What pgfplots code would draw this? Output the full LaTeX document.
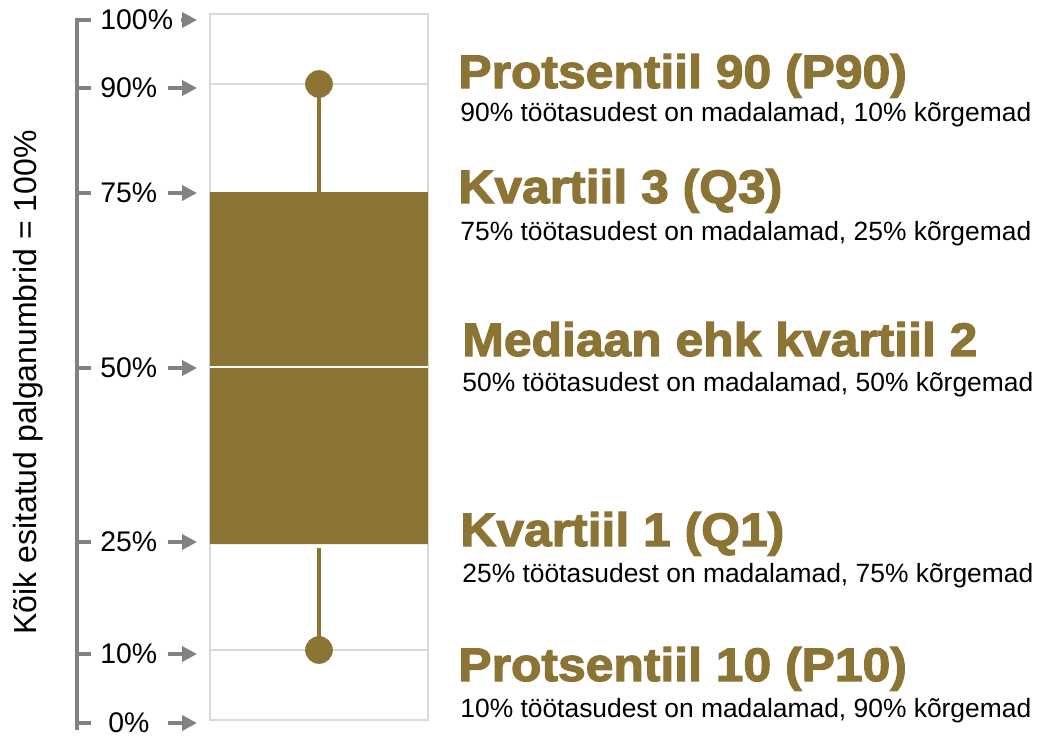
\documentclass[border=0pt]{standalone}
\usepackage{pgfplots}
\pgfplotsset{compat=1.18}
\usepackage{fontspec}
\setmainfont{Liberation Sans}
\newfontfamily\headfont[FakeBold=2.5, FakeStretch=1.06]{Liberation Sans Bold}
\usetikzlibrary{arrows.meta}
\definecolor{gold}{RGB}{140,117,52}
\definecolor{agray}{RGB}{128,130,133}
\definecolor{fgray}{RGB}{217,217,217}
\begin{document}
\begin{tikzpicture}
\begin{axis}[
  scale only axis, width=109pt, height=353pt,
  xmin=0, xmax=1, ymin=0, ymax=706,
  axis line style={fgray, line width=0.6pt},
  xtick=\empty, ytick={70,636}, yticklabels={}, major tick length=0,
  ymajorgrids, grid style={fgray, line width=0.6pt},
  clip=false,
  /pgf/number format/assume math mode=true,
]
% box (Q1 to Q3)
\addplot[fill=gold, draw=none] coordinates {(0,176) (1,176) (1,528) (0,528) (0,176)};
% median
\addplot[white, line width=0.6pt] coordinates {(0,353) (1,353)};
% whiskers
\addplot[gold, line width=2.1pt] coordinates {(0.5,528) (0.5,636)};
\addplot[gold, line width=2.1pt] coordinates {(0.5,172) (0.5,70)};
% P10 and P90 dots
\addplot[only marks, mark=*, mark size=6.7pt, gold] coordinates {(0.5,636) (0.5,70)};

% left bracket
\draw[agray, line width=2pt] (axis cs:-0.5459,700) -- (axis cs:-0.6101,700) -- (axis cs:-0.6101,-10);
\pgfplotsinvokeforeach{632,527,352,178,66,-3}{
  \draw[agray, line width=2pt] (axis cs:-0.6101,#1) -- (axis cs:-0.5459,#1);
  \draw[agray, line width=1.8pt, -{Triangle[length=7.5pt,width=7.5pt]}] (axis cs:-0.1927,#1) -- (axis cs:-0.0596,#1);
}
\draw[agray, line width=1.8pt, -{Triangle[length=7.5pt,width=7.5pt]}] (axis cs:-0.1330,700) -- (axis cs:-0.0596,700);
% tick labels
\tikzset{tl/.style={anchor=west, inner sep=0pt, font=\fontsize{14.2}{14}\selectfont}}
\node[tl] at (axis cs:-0.5046,700) {100\%};
\node[tl] at (axis cs:-0.5046,632) {90\%};
\node[tl] at (axis cs:-0.5046,527) {75\%};
\node[tl] at (axis cs:-0.5046,352) {50\%};
\node[tl] at (axis cs:-0.5046,178) {25\%};
\node[tl] at (axis cs:-0.5046,66) {10\%};
\node[tl] at (axis cs:-0.4679,-3) {0\%};
% y label
\node[anchor=base, rotate=90, inner sep=0pt, font=\fontsize{16}{16}\selectfont] at (axis cs:-0.7936,337.5) {Kõik esitatud palganumbrid = 100\%};

% right annotations
\tikzset{hd/.style={anchor=base west, inner sep=0pt, text=gold, font=\headfont\fontsize{23.5}{24}\selectfont},
         sb/.style={anchor=base west, inner sep=0pt, font=\fontsize{13.2}{14}\selectfont}}
\node[hd] at (axis cs:1.1376,632) {Protsentiil 90 (P90)};
\node[sb] at (axis cs:1.1468,599) {90\% töötasudest on madalamad, 10\% kõrgemad};
\node[hd] at (axis cs:1.1376,517) {Kvartiil 3 (Q3)};
\node[sb] at (axis cs:1.1468,480) {75\% töötasudest on madalamad, 25\% kõrgemad};
\node[hd] at (axis cs:1.1560,364) {Mediaan ehk kvartiil 2};
\node[sb] at (axis cs:1.1560,329) {50\% töötasudest on madalamad, 50\% kõrgemad};
\node[hd] at (axis cs:1.1468,174) {Kvartiil 1 (Q1)};
\node[sb] at (axis cs:1.1560,138) {25\% töötasudest on madalamad, 75\% kõrgemad};
\node[hd] at (axis cs:1.1376,39) {Protsentiil 10 (P10)};
\node[sb] at (axis cs:1.1468,3) {10\% töötasudest on madalamad, 90\% kõrgemad};

\coordinate (BL) at (axis cs:-0.96330,-16);
\coordinate (TR) at (axis cs:3.79358,720);
\end{axis}
\pgfresetboundingbox
\useasboundingbox (BL) rectangle (TR);
\end{tikzpicture}
\end{document}
